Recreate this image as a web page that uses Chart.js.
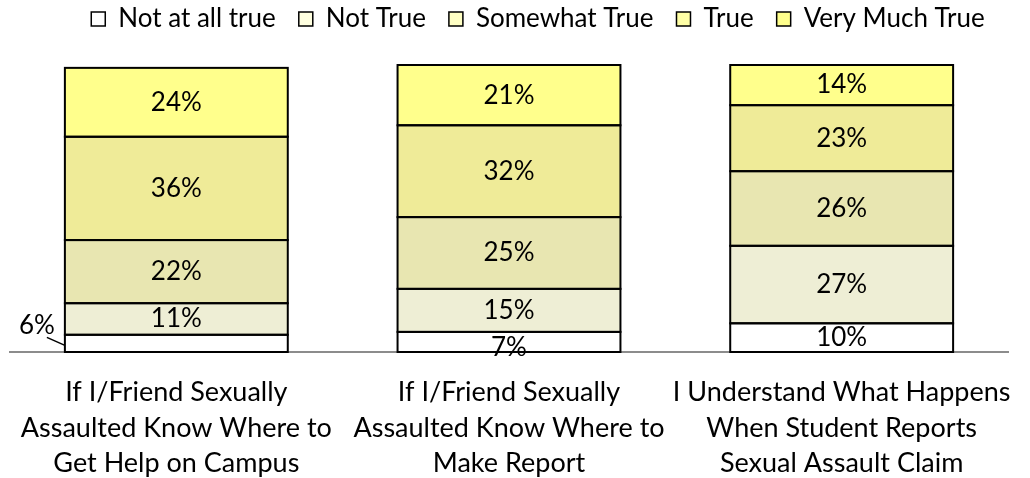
<!DOCTYPE html>
<html lang="en">
<head>
    <meta charset="UTF-8">
    <title>Campus Sexual Assault Resources</title>
    <script src="https://cdn.jsdelivr.net/npm/chart.js"></script>
    <style>
        body, html {
            margin: 0;
            padding: 0;
            background-color: #ffffff;
        }
        .chart-container {
            width: 1030px;
            height: 478px;
        }
    </style>
</head>
<body>
    <div class="chart-container">
        <canvas id="surveyChart"></canvas>
    </div>

    <script>
        // Dados
        const categories = [
            ['If I/Friend Sexually', 'Assaulted Know Where to', 'Get Help on Campus'],
            ['If I/Friend Sexually', 'Assaulted Know Where to', 'Make Report'],
            ['I Understand What Happens', 'When Student Reports', 'Sexual Assault Claim']
        ];
        const seriesNames = ['Not at all true', 'Not True', 'Somewhat True', 'True', 'Very Much True'];
        const notAtAllTrue = [6, 7, 10];
        const notTrue = [11, 15, 27];
        const somewhatTrue = [22, 25, 26];
        const trueVals = [36, 32, 23];
        const veryMuchTrue = [24, 21, 14];

        const barColors = ['#ffffff', '#eeeed5', '#e8e6b1', '#efeb98', '#ffff8c'];
        const legendColors = ['#ffffff', '#ffffe0', '#ffffc4', '#ffffa6', '#ffff8c'];
        const seriesValues = [notAtAllTrue, notTrue, somewhatTrue, trueVals, veryMuchTrue];

        const font = "Lato, 'Open Sans', sans-serif";

        // contornos e rótulos das barras
        const valueLabels = {
            id: 'valueLabels',
            afterDatasetsDraw(chart) {
                const ctx = chart.ctx;
                ctx.save();
                ctx.strokeStyle = '#000';
                ctx.lineWidth = 2;
                chart.data.datasets.forEach((ds, i) => {
                    chart.getDatasetMeta(i).data.forEach(bar => {
                        ctx.strokeRect(bar.x - bar.width / 2, bar.y, bar.width, bar.base - bar.y);
                    });
                });
                ctx.font = '26px ' + font;
                ctx.fillStyle = '#000';
                ctx.textAlign = 'center';
                ctx.textBaseline = 'middle';
                chart.data.datasets.forEach((ds, i) => {
                    chart.getDatasetMeta(i).data.forEach((bar, j) => {
                        const v = ds.data[j];
                        const cy = (bar.y + bar.base) / 2;
                        if (v < 7) {
                            const left = bar.x - bar.width / 2;
                            ctx.lineWidth = 1.5;
                            ctx.beginPath();
                            ctx.moveTo(left - 18, cy - 6);
                            ctx.lineTo(left, cy + 2);
                            ctx.stroke();
                            ctx.fillText(v + '%', left - 28, cy - 18);
                        } else {
                            ctx.fillText(v + '%', bar.x, cy + (v < 8 ? 6 : 0));
                        }
                    });
                });
                ctx.restore();
            }
        };

        // espaço extra abaixo da legenda e deslocamento para a direita
        const legendMargin = {
            id: 'legendMargin',
            beforeInit(chart) {
                const fit = chart.legend.fit;
                chart.legend.fit = function () {
                    fit.bind(chart.legend)();
                    this.height += 23;
                };
            },
            afterLayout(chart) {
                chart.legend.left += 29;
                chart.legend.right += 29;
            }
        };

        new Chart(document.getElementById('surveyChart').getContext('2d'), {
            type: 'bar',
            data: {
                labels: categories,
                datasets: seriesNames.map((name, i) => ({
                    label: name,
                    data: seriesValues[i],
                    backgroundColor: barColors[i],
                    borderWidth: 0,
                    barPercentage: 0.67,
                    categoryPercentage: 1
                }))
            },
            options: {
                responsive: true,
                maintainAspectRatio: false,
                animation: false,
                layout: {
                    padding: { left: 10, right: 22, top: -17, bottom: 0 }
                },
                scales: {
                    x: {
                        stacked: true,
                        grid: { display: false },
                        border: { color: '#8c8c8c', width: 2 },
                        ticks: {
                            color: '#000',
                            padding: 15,
                            maxRotation: 0,
                            autoSkip: false,
                            font: { family: font, size: 27, lineHeight: 1.315 }
                        },
                        afterFit(scale) {
                            scale.height = 126;
                        }
                    },
                    y: {
                        stacked: true,
                        display: false,
                        min: 0,
                        max: 100
                    }
                },
                plugins: {
                    legend: {
                        position: 'top',
                        labels: {
                            color: '#000',
                            boxWidth: 14,
                            boxHeight: 14,
                            padding: 23,
                            font: { family: font, size: 26 },
                            generateLabels(chart) {
                                return seriesNames.map((name, i) => ({
                                    text: name,
                                    fillStyle: legendColors[i],
                                    strokeStyle: '#000',
                                    lineWidth: 1.5,
                                    datasetIndex: i
                                }));
                            }
                        }
                    },
                    tooltip: { enabled: false }
                }
            },
            plugins: [valueLabels, legendMargin]
        });
    </script>
</body>
</html>
